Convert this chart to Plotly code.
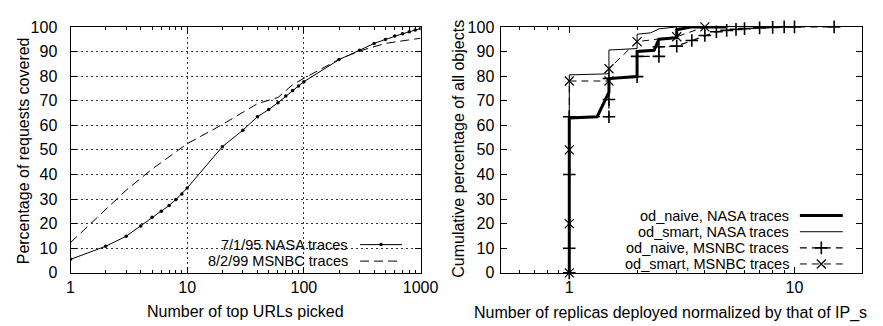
import plotly.graph_objects as go
import math

# ---------------- data: left chart ----------------
urls_nasa = [1, 2, 3, 4, 5, 6, 7, 8, 9, 10, 20, 30, 40, 50, 60, 70, 80, 90, 100,
             200, 300, 400, 500, 600, 700, 800, 900, 1000]
pct_nasa = [5.5, 10.8, 14.9, 19.1, 22.6, 25.1, 27.4, 29.8, 32.1, 34.5, 51.3, 58.0,
            63.5, 66.4, 69.2, 71.9, 74.1, 76.0, 77.7, 86.7, 90.5, 93.3, 94.9, 96.3,
            97.2, 98.0, 98.7, 99.3]
urls_msnbc = [1, 2, 3, 5, 7, 10, 20, 40, 60, 80, 100, 200, 300, 500, 1000]
pct_msnbc = [12.3, 25.9, 33.6, 42.2, 47.2, 52.5, 60.3, 68.8, 71.3, 76.5, 79.1,
             86.8, 90.2, 93.3, 95.4]
left_x_ticks = [1, 10, 100, 1000]
left_y_ticks = list(range(0, 101, 10))

# ---------------- data: right chart ----------------
naive_nasa_x = [1, 1, 1.33, 1.5, 1.5, 2, 2, 2.38, 2.5, 3, 3, 3.5, 5]
naive_nasa_y = [0, 63, 63.5, 73.5, 79, 79.8, 90, 90.5, 95, 95.6, 98.8, 100, 100]
smart_nasa_x = [1, 1, 1.46, 1.5, 1.5, 2, 2, 2.3, 2.5, 3, 5]
smart_nasa_y = [0, 80.5, 80.9, 81, 90.6, 91.2, 97, 97.6, 99.2, 100, 100]
naive_msnbc_x = [1, 1, 1, 1, 1.5, 1.5, 1.5, 2, 2, 2.5, 2.5, 3, 3.5, 4, 4.5, 5, 5.5,
                 6, 7, 8, 9, 10, 15]
naive_msnbc_y = [0, 10, 40, 63.5, 63.5, 70.5, 79, 79.8, 88, 88, 91.9, 92.2, 94.5,
                 96.5, 98, 98.6, 99, 99.3, 99.6, 99.8, 100, 100, 100]
smart_msnbc_x = [1, 1, 1, 1, 1.5, 1.5, 2, 3, 4]
smart_msnbc_y = [0, 20, 50, 78, 78, 83, 94, 96, 100]
right_x_ticks = [1, 10]
right_y_ticks = list(range(0, 101, 10))

W, H = 883, 326
FONT = "Liberation Sans, Arial, sans-serif"
FS = 16
LFS = 14.5

def px(x):
    return x / W

def py(y):
    return (H - y) / H

fig = go.Figure()

# left chart traces
fig.add_trace(go.Scatter(x=urls_nasa, y=pct_nasa, mode="lines+markers",
                         line=dict(color="black", width=1),
                         marker=dict(symbol="circle", size=3.5, color="black"),
                         xaxis="x", yaxis="y", showlegend=False))
fig.add_trace(go.Scatter(x=urls_msnbc, y=pct_msnbc, mode="lines",
                         line=dict(color="black", width=1, dash="9px,5px"),
                         xaxis="x", yaxis="y", showlegend=False))

# right chart traces
fig.add_trace(go.Scatter(x=smart_nasa_x, y=smart_nasa_y, mode="lines",
                         line=dict(color="black", width=1),
                         xaxis="x2", yaxis="y2", showlegend=False))
fig.add_trace(go.Scatter(x=naive_msnbc_x, y=naive_msnbc_y, mode="lines+markers",
                         line=dict(color="black", width=1.3, dash="7px,5px"),
                         marker=dict(symbol="cross-thin", size=9,
                                     line=dict(color="black", width=1.6)),
                         cliponaxis=False,
                         xaxis="x2", yaxis="y2", showlegend=False))
fig.add_trace(go.Scatter(x=smart_msnbc_x, y=smart_msnbc_y, mode="lines+markers",
                         line=dict(color="black", width=1, dash="7px,5px"),
                         marker=dict(symbol="x-thin", size=9,
                                     line=dict(color="black", width=1.2)),
                         cliponaxis=False,
                         xaxis="x2", yaxis="y2", showlegend=False))
fig.add_trace(go.Scatter(x=naive_nasa_x, y=naive_nasa_y, mode="lines",
                         line=dict(color="black", width=3),
                         xaxis="x2", yaxis="y2", showlegend=False))

# legend keys (full-canvas pixel axis)
def key(x0, x1, y, dash="solid", width=1, sym=None, msize=8, mw=1.4):
    fig.add_trace(go.Scatter(x=[x0, x1], y=[y, y], mode="lines",
                             line=dict(color="black", width=width, dash=dash),
                             xaxis="x3", yaxis="y3", showlegend=False,
                             hoverinfo="skip"))
    if sym:
        fig.add_trace(go.Scatter(x=[(x0 + x1) / 2], y=[y], mode="markers",
                                 marker=dict(symbol=sym, size=msize, color="black",
                                             line=dict(color="black", width=mw)),
                                 xaxis="x3", yaxis="y3", showlegend=False,
                                 hoverinfo="skip"))

LROWS = [241.2, 258.6]
RROWS = [210.6, 227.6, 244.6, 261.6]
key(357, 400, LROWS[0], sym="circle", msize=3.5, mw=0)
key(357, 400, LROWS[1], dash="9px,5px")
key(808, 852, RROWS[0], width=3)
key(808, 852, RROWS[1], width=1)
key(808, 852, RROWS[2], dash="7px,5px", width=1.3, sym="cross-thin", msize=9, mw=1.6)
key(808, 852, RROWS[3], dash="7px,5px", sym="x-thin", msize=9, mw=1.2)

annotations = []
def text(x, y, s, xanchor="center", angle=0, size=FS):
    annotations.append(dict(x=px(x), y=py(y), xref="paper", yref="paper", text=s,
                            showarrow=False, xanchor=xanchor, yanchor="middle",
                            borderpad=0, textangle=angle,
                            font=dict(family=FONT, size=size, color="black")))

text(346, LROWS[0], "7/1/95 NASA traces", xanchor="right", size=LFS)
text(346, LROWS[1], "8/2/99 MSNBC traces", xanchor="right", size=LFS)
text(798, RROWS[0], "od_naive, NASA traces", xanchor="right", size=LFS)
text(798, RROWS[1], "od_smart, NASA traces", xanchor="right", size=LFS)
text(798, RROWS[2], "od_naive, MSNBC traces", xanchor="right", size=LFS)
text(798, RROWS[3], "od_smart, MSNBC traces", xanchor="right", size=LFS)
text(239.5, 312, "Number of top URLs picked")
text(12, 142, "Percentage of requests covered", angle=-90)
text(675, 313, "Number of replicas deployed normalized by that of IP_s")
text(458, 140.5, "Cumulative percentage of all objects", angle=-90)

tickfont = dict(family=FONT, size=FS, color="black")
common = dict(showline=True, linecolor="black", linewidth=1, mirror="ticks",
              ticks="inside", ticklen=6, tickwidth=1, tickcolor="black",
              zeroline=False, tickfont=tickfont)

ydom = [py(271), py(11.5)]

fig.update_layout(
    width=W, height=H, margin=dict(l=0, r=0, t=0, b=0),
    paper_bgcolor="white", plot_bgcolor="rgba(0,0,0,0)",
    font=dict(family=FONT, size=FS, color="black"),
    xaxis=dict(type="log", range=[0, 3], domain=[px(60), px(419)], anchor="y",
               tickmode="array", tickvals=left_x_ticks,
               ticktext=[str(v) for v in left_x_ticks],
               showgrid=True, gridcolor="#333", griddash="2px,3px", gridwidth=1,
               minor=dict(ticks="inside", ticklen=3, tickcolor="black",
                          tickvals=[m * d for d in (1, 10, 100) for m in range(2, 10)],
                          showgrid=False),
               ticklabelstandoff=0, **common),
    yaxis=dict(range=[0, 100], domain=ydom, anchor="x",
               tickmode="array", tickvals=left_y_ticks,
               showgrid=True, gridcolor="#333", griddash="2px,3px", gridwidth=1,
               ticklabelstandoff=9, **common),
    xaxis2=dict(type="log", range=[math.log10(0.5), math.log10(20)],
                domain=[px(502), px(872)], anchor="y2",
                tickmode="array", tickvals=right_x_ticks,
                ticktext=[str(v) for v in right_x_ticks], showgrid=False,
                minor=dict(ticks="inside", ticklen=3, tickcolor="black",
                           tickvals=[0.6, 0.7, 0.8, 0.9] + list(range(2, 10)),
                           showgrid=False),
                ticklabelstandoff=0, **common),
    yaxis2=dict(range=[0, 100], domain=ydom, anchor="x2",
                tickmode="array", tickvals=right_y_ticks, showgrid=False,
                ticklabelstandoff=3, **common),
    xaxis3=dict(domain=[0, 1], range=[0, W], visible=False, anchor="y3"),
    yaxis3=dict(domain=[0, 1], range=[H, 0], visible=False, anchor="x3"),
    annotations=annotations,
    shapes=[dict(type="rect", xref="paper", yref="paper",
                 x0=px(163), x1=px(417.5), y0=py(269.5), y1=py(233.5),
                 fillcolor="white", line=dict(width=0), layer="between")],
)

fig.write_html("out.html")
